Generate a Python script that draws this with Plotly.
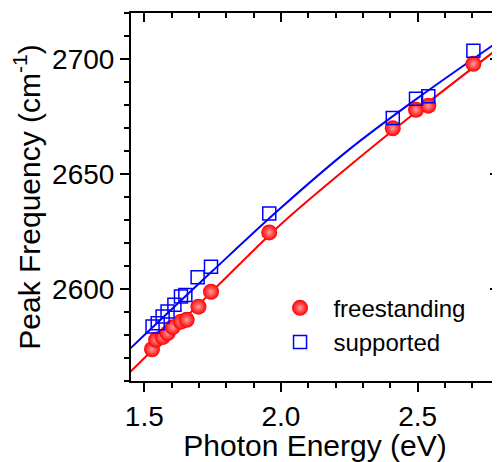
import plotly.graph_objects as go

# Data
energy_free = [1.528, 1.543, 1.567, 1.585, 1.604, 1.634, 1.655, 1.698, 1.744, 1.957, 2.409, 2.494, 2.539, 2.704]
freq_free = [2573.8, 2577.9, 2579.1, 2580.8, 2583.4, 2585.8, 2586.6, 2592.3, 2598.8, 2624.6, 2669.9, 2677.9, 2679.7, 2697.9]

energy_sup = [1.530, 1.549, 1.567, 1.585, 1.610, 1.634, 1.650, 1.695, 1.744, 1.957, 2.409, 2.494, 2.539, 2.704]
freq_sup = [2583.7, 2585.1, 2588.0, 2590.2, 2593.1, 2596.7, 2597.4, 2605.1, 2609.7, 2632.8, 2674.3, 2682.7, 2683.8, 2703.6]

# Fit curves
fit_x = [1.45, 1.75, 2.0, 2.25, 2.5, 2.8]
fit_free = [2564.1, 2599.2, 2628.2, 2653.5, 2677.5, 2705.1]
fit_sup = [2574.3, 2607.9, 2635.3, 2660.7, 2683.0, 2708.0]

x_ticks = [1.5, 2.0, 2.5]
x_ticklabels = ["1.5", "2.0", "2.5"]
y_ticks = [2600, 2650, 2700]
y_ticklabels = ["2600", "2650", "2700"]

FONT = "Liberation Sans, Arial, sans-serif"
XR = [1.4512, 2.7977]
YR = [2560.0, 2720.0]

fig = go.Figure()
fig.add_trace(go.Scatter(x=fit_x, y=fit_free, mode="lines", line=dict(color="#ff0000", width=2, shape="spline"),
                         showlegend=False, hoverinfo="skip"))
fig.add_trace(go.Scatter(x=fit_x, y=fit_sup, mode="lines", line=dict(color="#0000ff", width=2, shape="spline"),
                         showlegend=False, hoverinfo="skip"))
fig.add_trace(go.Scatter(x=energy_free, y=freq_free, mode="markers", name="\u00a0\u00a0freestanding",
                         marker=dict(symbol="circle", size=16, color="#ff0000",
                                     gradient=dict(type="radial", color="#ff9c9c"),
                                     line=dict(width=0))))
fig.add_trace(go.Scatter(x=energy_sup, y=freq_sup, mode="markers", name="\u00a0\u00a0supported",
                         xaxis="x2", yaxis="y2",
                         marker=dict(symbol="square-open", size=13, color="#0000ff",
                                     line=dict(width=1.5, color="#0000ff"))))

axis_common = dict(showline=True, linecolor="black", linewidth=2, showgrid=False, zeroline=False,
                   tickcolor="black", tickwidth=2)

# The page body adds an 8px offset, so the figure is 8px smaller than the window.
fig.update_layout(
    width=492, height=454,
    margin=dict(l=123, r=1, t=5, b=81),
    paper_bgcolor="white", plot_bgcolor="white",
    font=dict(family=FONT, color="black"),
    xaxis=dict(range=XR, tickvals=x_ticks, ticktext=x_ticklabels, ticks="outside", ticklen=9,
               tickfont=dict(size=28, family=FONT), automargin=False,
               minor=dict(dtick=0.1, tick0=1.5, ticks="outside", ticklen=5, tickwidth=2, tickcolor="black"),
               title=dict(text="Photon Energy (eV)", font=dict(size=30, family=FONT), standoff=0),
               **axis_common),
    yaxis=dict(range=YR, tickvals=y_ticks, ticktext=y_ticklabels, ticks="outside", ticklen=9,
               tickfont=dict(size=28, family=FONT), automargin=False,
               minor=dict(dtick=10, tick0=2600, ticks="outside", ticklen=5, tickwidth=2, tickcolor="black"),
               title=dict(text="Peak Frequency (cm<sup>-1</sup>)", font=dict(size=30, family=FONT), standoff=10),
               **axis_common),
    xaxis2=dict(range=XR, overlaying="x", side="top", dtick=0.5, tick0=1.5, ticks="inside", ticklen=9,
                showticklabels=True, tickfont=dict(size=1, color="rgba(0,0,0,0)"), automargin=False,
                minor=dict(dtick=0.1, tick0=1.5, ticks="inside", ticklen=5, tickwidth=2, tickcolor="black"),
                **axis_common),
    yaxis2=dict(range=YR, overlaying="y", side="right", dtick=50, tick0=2600, ticks="inside", ticklen=9,
                showticklabels=True, tickfont=dict(size=1, color="rgba(0,0,0,0)"), automargin=False,
                minor=dict(dtick=10, tick0=2600, ticks="inside", ticklen=5, tickwidth=2, tickcolor="black"),
                **axis_common),
    legend=dict(x=0.405, y=0.259, xanchor="left", yanchor="top", bgcolor="rgba(0,0,0,0)",
                font=dict(size=24, family=FONT), tracegroupgap=0, itemsizing="trace"),
)

fig.write_html("out.html")
